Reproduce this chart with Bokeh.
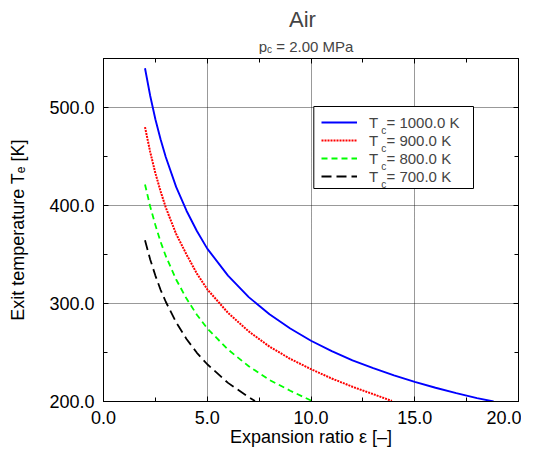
from bokeh.plotting import figure
from bokeh.layouts import column
from bokeh.models import (Range1d, LinearAxis, FixedTicker, PrintfTickFormatter,
                          Label, Legend, LegendItem, BoxAnnotation)
from bokeh.embed import file_html
from bokeh.resources import INLINE

# ---- data ----
eps_1000 = [2.0, 2.25, 2.5, 2.75, 3.0, 3.5, 4.0, 4.5, 5.0, 6.0, 7.0, 8.0, 9.0, 10.0,
            11.0, 12.0, 13.0, 14.0, 15.0, 16.0, 17.0, 18.0, 18.8]
te_1000 = [540, 512, 488, 467.6, 449.5, 419, 394.7, 374, 356, 328.5, 306.5, 289, 274.5, 262,
           251.5, 242, 234, 226.7, 220, 214, 208.6, 203.5, 200]

eps_900 = [2.0, 2.25, 2.5, 2.75, 3.0, 3.5, 4.0, 4.5, 5.0, 6.0, 7.0, 8.0, 9.0, 10.0,
           11.0, 12.0, 13.0, 13.9]
te_900 = [480, 454.7, 433, 414.6, 398, 371, 350, 330.5, 314.5, 290.5, 271.5, 256, 243.5, 233,
          223.5, 215, 207.5, 200.5]

eps_800 = [2.0, 2.25, 2.5, 2.75, 3.0, 3.5, 4.0, 4.5, 5.0, 6.0, 7.0, 8.0, 9.0, 10.0, 10.15]
te_800 = [421.5, 399, 380, 363, 348.5, 324.5, 305, 288.5, 274.6, 253, 236, 222, 211, 201, 200]

eps_700 = [2.0, 2.25, 2.5, 2.75, 3.0, 3.5, 4.0, 4.5, 5.0, 6.0, 7.0, 7.3]
te_700 = [364.5, 345, 328.5, 314, 301.8, 280.8, 263.8, 249.7, 238, 219, 204.4, 200.5]

series_labels = ["1000.0 K", "900.0 K", "800.0 K", "700.0 K"]

x_ticks = [0, 5, 10, 15, 20]
x_minor = [2.5, 7.5, 12.5, 17.5]
y_ticks = [200, 300, 400, 500]
y_minor = [250, 350, 450]

title_text = "Air"
subtitle_main = "p"
subtitle_sub = "c"
subtitle_rest = "= 2.00 MPa"
x_label = "Expansion ratio \u03b5 [\u2013]"
y_label = "Exit temperature T\u2091 [K]"

FONT = "Liberation Sans"
W = 521
TOP_H = 54
LEFT_B = 103
RIGHT_B = 3
NBSP2 = "\u00a0\u00a0"

# ---- title band (its own small svg figure, frame = x 103..518 px) ----
tf = figure(width=W, height=TOP_H, output_backend="svg", toolbar_location=None, title=None,
            x_range=Range1d(LEFT_B, W - RIGHT_B), y_range=Range1d(TOP_H, 0),
            x_axis_location=None, y_axis_location=None,
            min_border=0, min_border_left=LEFT_B, min_border_right=RIGHT_B,
            min_border_top=0, min_border_bottom=0)
tf.grid.visible = False
tf.outline_line_color = None
tf.background_fill_color = "white"
tf.border_fill_color = "white"
tf.add_layout(Label(x=302, y=19, text=title_text, text_font=FONT, text_font_size="22px",
                    text_align="center", text_baseline="alphabetic"))
tf.add_layout(Label(x=258.3, y=46, text=subtitle_main, text_font=FONT, text_font_size="15px",
                    text_align="left", text_baseline="alphabetic"))
tf.add_layout(Label(x=266.6, y=49, text=subtitle_sub, text_font=FONT, text_font_size="10px",
                    text_align="left", text_baseline="alphabetic"))
tf.add_layout(Label(x=275.8, y=46, text=subtitle_rest, text_font=FONT, text_font_size="15px",
                    text_align="left", text_baseline="alphabetic"))

# ---- main plot ----
p = figure(width=W, height=450 - TOP_H, output_backend="svg", toolbar_location=None,
           x_range=Range1d(0, 20), y_range=Range1d(200, 550),
           min_border_left=LEFT_B, min_border_right=RIGHT_B, min_border_top=4,
           min_border_bottom=49)
p.background_fill_color = "white"
p.border_fill_color = "white"
p.outline_line_color = "black"
p.outline_line_width = 1

p.add_layout(LinearAxis(), "above")
p.add_layout(LinearAxis(), "right")


def style_axis(ax, ticks, minor, show):
    ax.ticker = FixedTicker(ticks=ticks, minor_ticks=minor)
    ax.formatter = PrintfTickFormatter(format="%.1f")
    ax.axis_line_color = "black"
    ax.axis_line_width = 1
    ax.major_tick_in = 5
    ax.major_tick_out = 0
    ax.minor_tick_in = 4
    ax.minor_tick_out = 0
    ax.major_tick_line_color = "black"
    ax.minor_tick_line_color = "black"
    ax.major_label_text_font = FONT
    if show:
        ax.major_label_text_color = "black"
        ax.major_label_text_font_size = "18px"
    else:
        ax.major_label_text_color = None
        ax.major_label_text_font_size = "1px"
        ax.major_label_standoff = 0


xa = p.below[0]
ya = p.left[0]
style_axis(xa, x_ticks, x_minor, True)
style_axis(ya, y_ticks, y_minor, True)
style_axis(p.above[0], x_ticks, x_minor, False)
style_axis(p.right[0], y_ticks, y_minor, False)
xa.major_label_standoff = 9
ya.major_label_standoff = 9

xa.axis_label = x_label
ya.axis_label = y_label
for ax in (xa, ya):
    ax.axis_label_text_font = FONT
    ax.axis_label_text_font_size = "18px"
    ax.axis_label_text_font_style = "normal"
    ax.axis_label_text_color = "black"
xa.axis_label_standoff = 0
ya.axis_label_standoff = 18

for g, t in ((p.xgrid[0], x_ticks), (p.ygrid[0], y_ticks)):
    g.ticker = FixedTicker(ticks=t)
    g.grid_line_color = "black"
    g.grid_line_dash = "1 1"
    g.grid_line_width = 1
    g.grid_line_alpha = 0.8

r1 = p.line(eps_1000, te_1000, line_color="#0000ff", line_width=1.9)
r2 = p.line(eps_900, te_900, line_color="#ff0000", line_width=2.0, line_dash="2 1")
r3 = p.line(eps_800, te_800, line_color="#00ff00", line_width=1.8, line_dash="6 4")
r4 = p.line(eps_700, te_700, line_color="black", line_width=1.8, line_dash="10 5")

box = BoxAnnotation(left=210.3, right=370, top=295, bottom=213,
                    left_units="screen", right_units="screen",
                    top_units="screen", bottom_units="screen",
                    fill_color="white", fill_alpha=1.0,
                    line_color="black", line_width=1, line_alpha=1.0)
p.add_layout(box)

legend = Legend(items=[LegendItem(label="T" + NBSP2 + "= " + s, renderers=[r])
                       for s, r in zip(series_labels, [r1, r2, r3, r4])],
                location=(218, 215.6), padding=8, spacing=0, margin=0,
                label_height=18, glyph_height=18, glyph_width=36, label_standoff=12,
                label_text_font=FONT, label_text_font_size="15px",
                border_line_color=None, background_fill_alpha=0)
p.add_layout(legend, "center")

for i in range(4):
    p.add_layout(Label(x=277.7, y=271.5 - 18 * i, x_units="screen", y_units="screen",
                       text="c", text_font=FONT, text_font_size="10px",
                       text_baseline="alphabetic", text_align="left"))

layout = column(tf, p, spacing=0)
open("out.html", "w").write(file_html(layout, INLINE))
